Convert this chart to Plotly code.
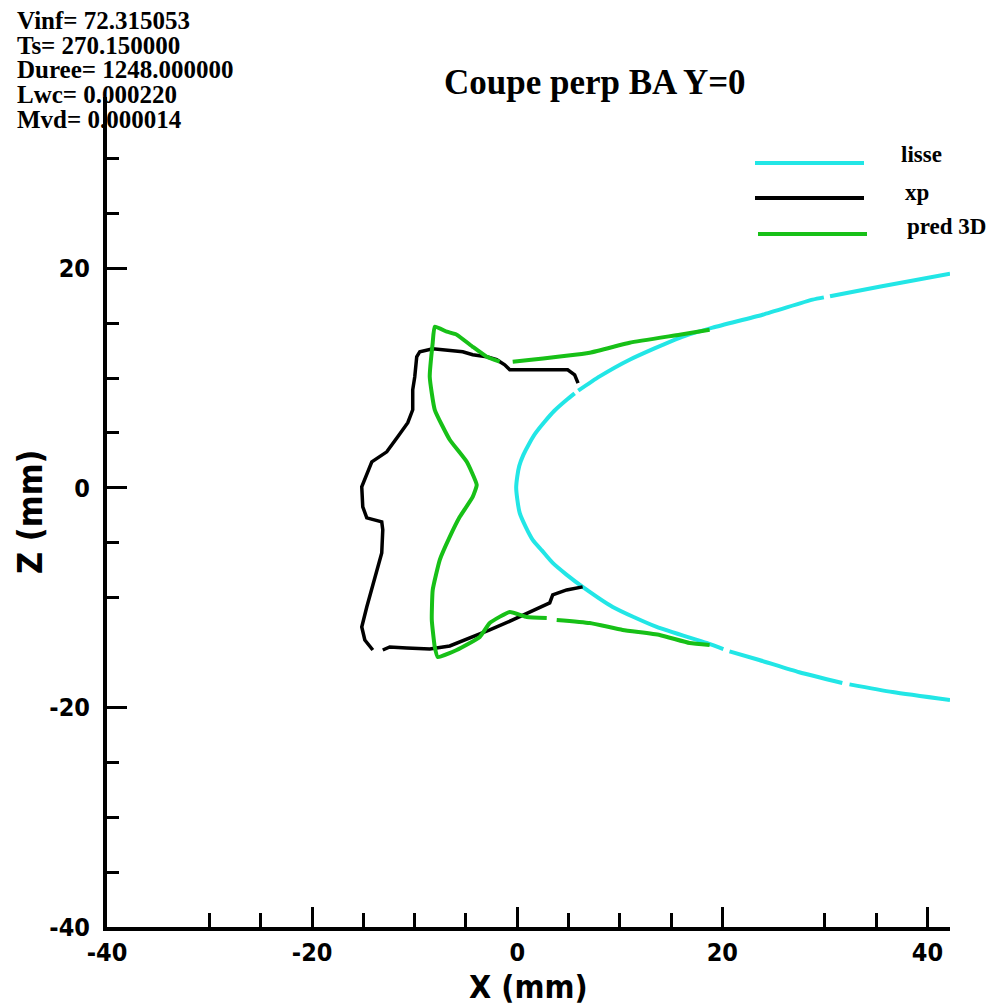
import plotly.graph_objects as go

# ---- curve data (X, Z in mm); None marks a break in the drawn line ----
lisse_x = [42.2, 36.6, 32.4, None, 31.7, 27.5, 23.6, 20.7, None, 20.1, 18.47, 13.6, 9.31, 6.38,
           4.8, 3.46, 2.4, 1.51, 0.85, 0.24, 0.0, -0.1, 0.0, 0.2, 0.6, 1.15, 1.8, 2.65, 3.6, 4.8,
           5.6, None, 5.95, 8.04, 10.96, 15.84, 19.05, 23.93, 28.8, 29.9, None, 30.5, 35.3, 42.2]
lisse_z = [-19.33, -18.6, -17.9, None, -17.78, -16.8, -15.68, -14.9, None, -14.7, -14.13, -12.67,
           -10.85, -9.02, -7.9, -6.84, -5.7, -4.74, -3.6, -2.28, -1.0, 0.0, 1.0, 2.0, 3.0, 4.0,
           5.0, 6.0, 7.0, 8.0, 8.6, None, 8.85, 10.15, 11.67, 13.67, 14.59, 15.77, 17.14, 17.35,
           None, 17.45, 18.32, 19.51]

xp_x = [5.93, 5.60, 4.92, -0.73, -1.22, -2.0, -2.97, -4.34, -5.31, -6.87, -8.24, -9.50, -9.80,
        -9.99, -10.19, -10.19, -10.67, -11.65, -12.72, -14.18, -14.67, -15.16, -15.06, -14.67,
        -13.21, -13.11, -13.21, -13.69, -14.18, -14.67, -15.16, -14.86, -14.08, None,
        -13.11, -12.43, -10.77, -8.53, -6.58, -4.34, -2.68, -0.44, 2.19, 3.17, 3.46, 4.82, 6.38]
xp_z = [9.54, 10.30, 10.76, 10.76, 11.21, 11.67, 11.94, 12.12, 12.40, 12.58, 12.67, 12.40, 11.94,
        10.12, 8.93, 7.11, 5.93, 4.65, 3.28, 2.37, 1.19, 0.09, -1.73, -2.73,
        -3.10, -3.83, -5.93, -7.47, -9.02, -10.85, -12.67, -13.86, -14.77, None,
        -14.77, -14.49, -14.59, -14.68, -14.40, -13.58, -12.94, -12.03, -10.85, -10.48, -9.75, -9.30, -9.02]

pred_x = [18.76, 15.84, 10.96, 7.07, -0.44, None, -1.71, -2.97, -4.34, -5.90, -6.87, -8.04,
          -8.24, -8.53, -8.04, -6.58, -4.92, -3.95, -4.34, -5.60, -6.58, -7.55, -8.24, -8.33,
          -8.04, -7.75, -5.90, -3.65, -2.68, -0.73, 0.93, 2.88, None, 3.85, 7.07, 10.28, 13.89,
          16.81, 18.76]
pred_z = [14.40, 13.95, 13.22, 12.31, 11.49, None, 11.49, 11.94, 12.85, 13.95, 14.22, 14.68,
          13.22, 10.12, 7.11, 4.38, 2.37, 0.27, -0.82, -2.64, -4.47, -6.56, -9.30, -12.03,
          -14.49, -15.41, -14.77, -13.58, -12.31, -11.30, -11.76, -11.85, None, -12.03, -12.31,
          -12.94, -13.40, -14.13, -14.31]

# ---- axes ----
x_major = [-40, -20, 0, 20, 40]
x_minor = [-30, -25, -15, -10, -5, 5, 10, 15, 30, 35]
y_major = [-40, -20, 0, 20]
y_minor = [-35, -30, -25, -10, -5, 5, 10, 15, 25, 30]

info_lines = ["Vinf= 72.315053", "Ts= 270.150000", "Duree= 1248.000000",
              "Lwc= 0.000220", "Mvd= 0.000014"]
series_names = ["lisse", "xp", "pred 3D"]
series_colors = ["#22E6E6", "#000000", "#17C017"]

# plot-area edges in pixels
W, H = 995, 1005
L, R, T, B = 107, 950, 97, 927


def px(x):
    return (x - L) / (R - L)


def py(y):
    return (B - y) / (B - T)


fig = go.Figure()
fig.add_trace(go.Scatter(x=lisse_x, y=lisse_z, mode="lines", name=series_names[0],
                         line=dict(color=series_colors[0], width=4, shape="spline", smoothing=0.6)))
fig.add_trace(go.Scatter(x=xp_x, y=xp_z, mode="lines", name=series_names[1],
                         line=dict(color=series_colors[1], width=3.5)))
fig.add_trace(go.Scatter(x=pred_x, y=pred_z, mode="lines", name=series_names[2],
                         line=dict(color=series_colors[2], width=4, shape="spline", smoothing=0.4)))

tick_font = dict(family="DejaVu Sans Condensed", size=25, color="black", weight="bold")
axis_common = dict(showline=True, linecolor="black", linewidth=4, showgrid=False, zeroline=False,
                   ticks="inside", ticklen=20, tickwidth=3, tickcolor="black", tickfont=tick_font,
                   tickmode="array")

fig.update_xaxes(range=[-40, 42.2], tickvals=x_major, ticktext=[str(v) for v in x_major],
                 minor=dict(tickmode="array", tickvals=x_minor, ticks="inside", ticklen=14,
                            tickwidth=3, tickcolor="black"),
                 ticklabelstandoff=0, **axis_common)
fig.update_yaxes(range=[-40, 35.6], tickvals=y_major, ticktext=[str(v) for v in y_major],
                 minor=dict(tickmode="array", tickvals=y_minor, ticks="inside", ticklen=12,
                            tickwidth=3, tickcolor="black"),
                 ticklabelstandoff=8, **axis_common)

annotations = []
# title
annotations.append(dict(text="Coupe perp BA Y=0", x=px(595), y=py(83), xref="paper", yref="paper",
                        showarrow=False, xanchor="center", yanchor="middle",
                        font=dict(family="Liberation Serif", size=35, color="black", weight="bold")))
# run parameters, top-left: one text block, tight line pitch, larger glyphs per line
info_text = "<br>".join('<span style="font-size:25px">%s</span>' % s for s in info_lines)
annotations.append(dict(text=info_text, x=px(15), y=py(70), xref="paper", yref="paper",
                        showarrow=False, xanchor="left", yanchor="middle", align="left",
                        font=dict(family="Liberation Serif", size=19, color="black",
                                  weight="bold")))
# axis titles
annotations.append(dict(text="X (mm)", x=0.5, y=py(987), xref="paper", yref="paper",
                        showarrow=False, xanchor="center", yanchor="middle",
                        font=dict(family="DejaVu Sans Condensed", size=32, color="black",
                                  weight="bold")))
annotations.append(dict(text="Z (mm)", x=px(30), y=py(512), xref="paper", yref="paper",
                        showarrow=False, xanchor="center", yanchor="middle", textangle=-90,
                        font=dict(family="DejaVu Sans Condensed", size=34, color="black",
                                  weight="bold")))

# legend: line samples and labels
shapes = []
leg_rows = [(755, 864, 163, 899, 154), (755, 864, 198, 903, 192), (758, 867, 234, 905, 226)]
for (x0, x1, yl, xt, yt), name, color in zip(leg_rows, series_names, series_colors):
    shapes.append(dict(type="line", xref="paper", yref="paper", x0=px(x0), x1=px(x1),
                       y0=py(yl), y1=py(yl), line=dict(color=color, width=4)))
    annotations.append(dict(text=name, x=px(xt), y=py(yt), xref="paper", yref="paper",
                            showarrow=False, xanchor="left", yanchor="middle",
                            font=dict(family="Liberation Serif", size=23, color="black",
                                      weight="bold")))

fig.update_layout(width=W, height=H, margin=dict(l=L, r=W - R, t=T, b=H - B),
                  plot_bgcolor="white", paper_bgcolor="white", showlegend=False,
                  annotations=annotations, shapes=shapes)

fig.write_html("out.html")
